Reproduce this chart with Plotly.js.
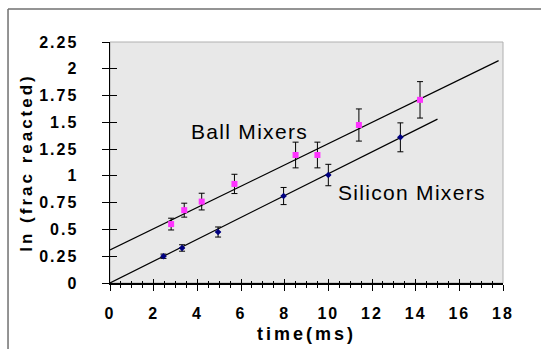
<!DOCTYPE html>
<html>
<head>
<meta charset="utf-8">
<script src="https://cdn.plot.ly/plotly-3.0.1.min.js"></script>
<style>
html,body{margin:0;padding:0;background:#fff;}
#chart{width:541px;height:349px;}
.xtick text,.ytick text{letter-spacing:2px;font-weight:bold !important;}
.xtitle,.ytitle{letter-spacing:3px;}
.annotation-text{letter-spacing:1.3px;}
</style>
</head>
<body>
<div id="chart"></div>
<script>
// Ball mixers
const ballX = [2.8, 3.4, 4.2, 5.7, 8.5, 9.5, 11.4, 14.2];
const ballY = [0.55, 0.68, 0.76, 0.925, 1.195, 1.195, 1.475, 1.71];
const ballErr = [0.055, 0.065, 0.078, 0.09, 0.12, 0.12, 0.15, 0.17];
// Silicon mixers
const siliconX = [2.45, 3.3, 4.95, 7.95, 10.0, 13.3];
const siliconY = [0.25, 0.327, 0.476, 0.812, 1.008, 1.36];
const siliconErr = [0.02, 0.03, 0.047, 0.08, 0.1, 0.135];
const siliconErrX = [0.12, 0.12, 0.12, 0.12, 0.12, 0.12];
// Linear fits
const ballFitX = [0, 17.8];
const ballFitY = [0.308, 2.076];
const siliconFitX = [0, 15];
const siliconFitY = [0, 1.53];
// Axis ticks
const xTicks = [0, 2, 4, 6, 8, 10, 12, 14, 16, 18];
const yTicks = [0, 0.25, 0.5, 0.75, 1, 1.25, 1.5, 1.75, 2, 2.25];
const yTickText = ['0', '0.25', '0.5', '0.75', '1', '1.25', '1.5', '1.75', '2', '2.25'];
// Labels
const labels = [
  {text: 'Ball Mixers', x: 6.4, y: 1.41},
  {text: 'Silicon Mixers', x: 13.85, y: 0.843}
];

const FONT = 'Liberation Sans, Arial, sans-serif';

const traces = [
  {x: ballFitX, y: ballFitY, mode: 'lines', line: {color: '#000', width: 1.2}, hoverinfo: 'skip'},
  {x: siliconFitX, y: siliconFitY, mode: 'lines', line: {color: '#000', width: 1.2}, hoverinfo: 'skip'},
  {x: ballX, y: ballY, mode: 'markers', name: 'Ball Mixers',
   marker: {symbol: 'square', size: 6, color: '#ff33ff'},
   error_y: {type: 'data', array: ballErr, visible: true, color: '#000', thickness: 1, width: 3}},
  {x: siliconX, y: siliconY, mode: 'markers', name: 'Silicon Mixers',
   marker: {symbol: 'diamond', size: 5, color: '#000080'},
   error_y: {type: 'data', array: siliconErr, visible: true, color: '#000', thickness: 1, width: 3},
   error_x: {type: 'data', array: siliconErrX, visible: true, color: '#000080', thickness: 1, width: 0}},
  {x: [], y: [], xaxis: 'x2', yaxis: 'y2', showlegend: false, hoverinfo: 'skip'}
];

const layout = {
  width: 541, height: 349,
  margin: {l: 110, r: 38, t: 42, b: 66},
  paper_bgcolor: '#fff',
  plot_bgcolor: '#e8e8e8',
  showlegend: false,
  font: {family: FONT, color: '#000'},
  xaxis: {
    range: [0, 18], tickvals: xTicks, ticktext: xTicks.map(String),
    ticks: 'outside', ticklen: 6, tickwidth: 1, tickcolor: '#000',
    minor: {dtick: 0.5, tick0: 0, ticks: 'outside', ticklen: 3, tickwidth: 1, tickcolor: '#000'},
    showline: true, linecolor: '#000', linewidth: 1.5,
    showgrid: false, zeroline: false,
    ticklabelstandoff: 9,
    tickfont: {size: 16, weight: 'bold', family: FONT, color: '#000'},
    title: {text: 'time(ms)', font: {size: 18, weight: 'bold', family: FONT, color: '#000'}, standoff: 6},
    automargin: false, fixedrange: true
  },
  xaxis2: {
    overlaying: 'x', anchor: 'y', range: [0, 18], dtick: 2, tick0: 0,
    ticks: 'inside', ticklen: 4, tickwidth: 1, tickcolor: '#000',
    minor: {dtick: 0.5, tick0: 0, ticks: 'inside', ticklen: 2, tickwidth: 1, tickcolor: '#000'},
    showticklabels: false, showline: false, showgrid: false, zeroline: false
  },
  yaxis: {
    range: [0, 2.25], tickvals: yTicks, ticktext: yTickText,
    ticks: 'outside', ticklen: 7, tickwidth: 1, tickcolor: '#000',
    showline: true, linecolor: '#000', linewidth: 1.5,
    showgrid: false, zeroline: false,
    ticklabelstandoff: 20,
    tickfont: {size: 16, weight: 'bold', family: FONT, color: '#000'},
    title: {text: 'ln (frac reacted)', font: {size: 17, weight: 'bold', family: FONT, color: '#000'}, standoff: 2},
    automargin: false, fixedrange: true
  },
  yaxis2: {
    overlaying: 'y', anchor: 'x', side: 'left', range: [0, 2.25], tickvals: yTicks,
    ticks: 'inside', ticklen: 7, tickwidth: 1, tickcolor: '#000',
    showticklabels: false, showline: false, showgrid: false, zeroline: false
  },
  annotations: labels.map(l => ({
    text: l.text, x: l.x, y: l.y, xref: 'x', yref: 'y', showarrow: false,
    font: {size: 21, family: FONT, color: '#000'}
  })),
  shapes: [
    {type: 'rect', xref: 'paper', yref: 'paper', x0: 0, x1: 1, y0: 0, y1: 1,
     line: {color: '#b0b0b0', width: 1}, layer: 'below'},
    {type: 'line', xref: 'paper', yref: 'paper', x0: -0.2595, x1: -0.2595, y0: 1.137, y1: -0.3,
     line: {color: '#707070', width: 1.5}},
    {type: 'line', xref: 'paper', yref: 'paper', x0: -0.2595, x1: 1.2, y0: 1.137, y1: 1.137,
     line: {color: '#707070', width: 1.5}}
  ]
};

Plotly.newPlot('chart', traces, layout, {staticPlot: true, displayModeBar: false});
</script>
</body>
</html>
